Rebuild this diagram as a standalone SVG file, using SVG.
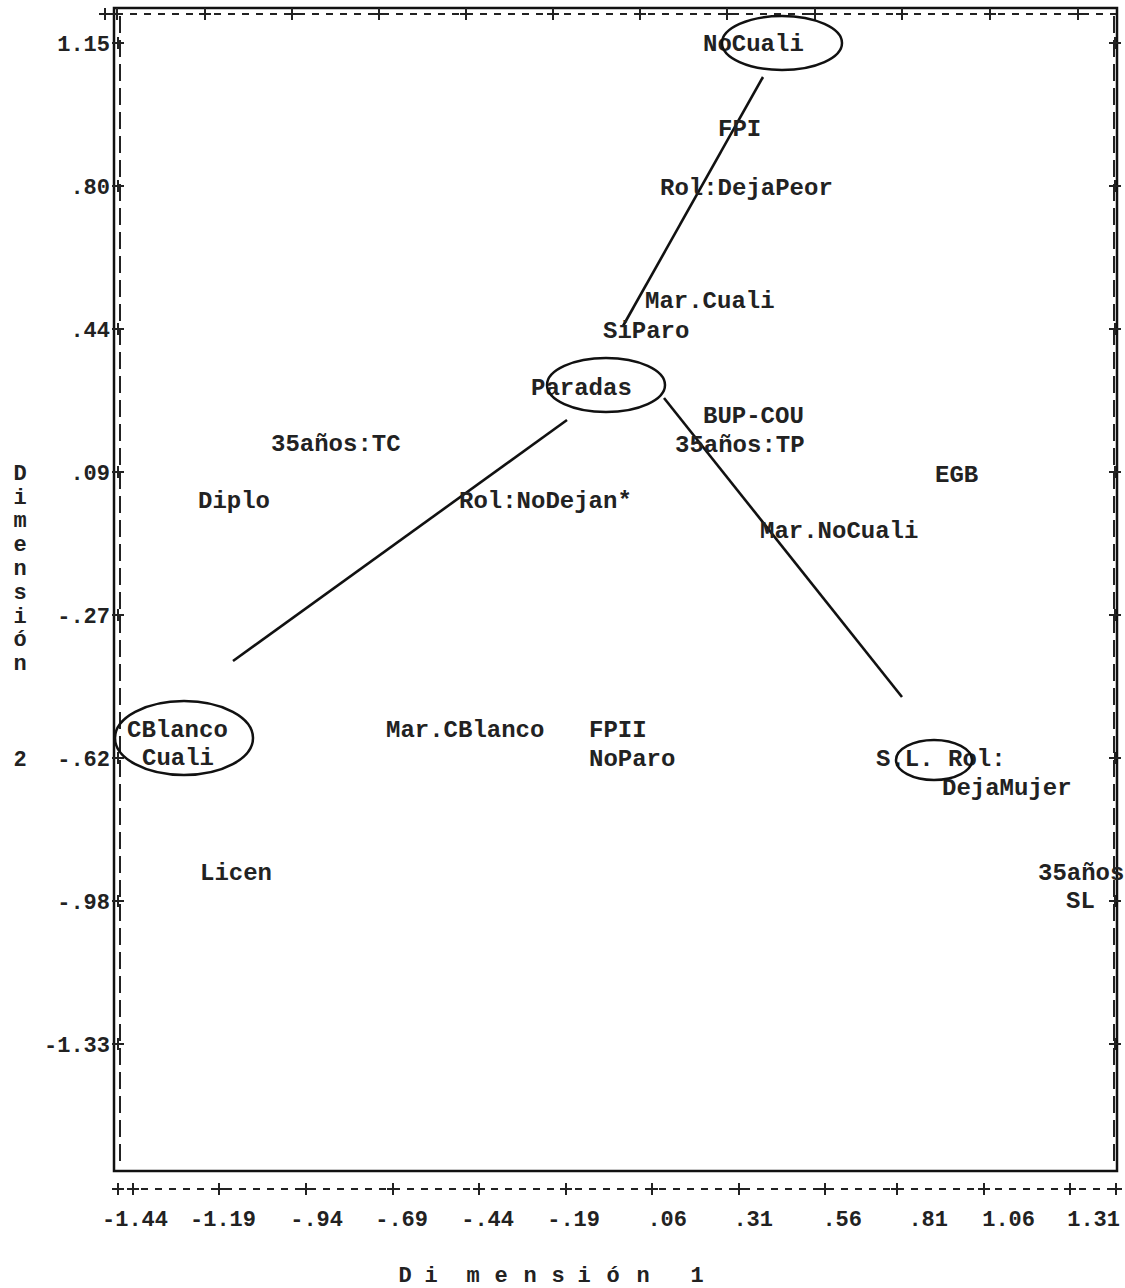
<svg xmlns="http://www.w3.org/2000/svg" xmlns:xlink="http://www.w3.org/1999/xlink" width="1125" height="1288" viewBox="0 0 1125 1288">
<style>
.lbl{font-family:"Liberation Mono","Courier New",monospace;font-weight:bold;font-size:24px;fill:#222}
.tk{font-family:"Liberation Mono","Courier New",monospace;font-weight:bold;font-size:22px;fill:#222}
.tkr{text-anchor:end}
.frame{fill:none;stroke:#111;stroke-width:2.5}
.dash{fill:none;stroke:#222;stroke-width:2}
.conn{stroke:#111;stroke-width:2.6;fill:none}
.ring{fill:none;stroke:#111;stroke-width:2.5}
.pl{stroke:#222;stroke-width:2;fill:none}
</style>
<defs>
<path id="plus" d="M-6 0H6M0 -6V6" class="pl"/>
</defs>
<rect width="1125" height="1288" fill="#fff"/>

<!-- frame -->
<rect class="frame" x="114" y="8" width="1003" height="1163"/>
<line class="dash" x1="116" y1="14" x2="1116" y2="14" stroke-dasharray="7,7"/>
<line class="dash" x1="120" y1="16" x2="120" y2="1168" stroke-dasharray="17,7"/>
<line class="dash" x1="1114" y1="16" x2="1114" y2="1168" stroke-dasharray="17,7"/>
<line class="dash" x1="113" y1="1189" x2="1120" y2="1189" stroke-dasharray="7,7"/>

<!-- top ticks -->
<g>
<use xlink:href="#plus" x="105" y="14"/><use xlink:href="#plus" x="117" y="14"/><use xlink:href="#plus" x="205" y="14"/><use xlink:href="#plus" x="292" y="14"/><use xlink:href="#plus" x="379" y="14"/><use xlink:href="#plus" x="466" y="14"/><use xlink:href="#plus" x="553" y="14"/><use xlink:href="#plus" x="640" y="14"/><use xlink:href="#plus" x="727" y="14"/><use xlink:href="#plus" x="815" y="14"/><use xlink:href="#plus" x="902" y="14"/><use xlink:href="#plus" x="990" y="14"/><use xlink:href="#plus" x="1078" y="14"/>
</g>
<!-- bottom ticks -->
<g>
<use xlink:href="#plus" x="118" y="1189"/><use xlink:href="#plus" x="133" y="1189"/><use xlink:href="#plus" x="219" y="1189"/><use xlink:href="#plus" x="306" y="1189"/><use xlink:href="#plus" x="393" y="1189"/><use xlink:href="#plus" x="479" y="1189"/><use xlink:href="#plus" x="566" y="1189"/><use xlink:href="#plus" x="652" y="1189"/><use xlink:href="#plus" x="739" y="1189"/><use xlink:href="#plus" x="825" y="1189"/><use xlink:href="#plus" x="897" y="1189"/><use xlink:href="#plus" x="984" y="1189"/><use xlink:href="#plus" x="1070" y="1189"/><use xlink:href="#plus" x="1116" y="1189"/>
</g>
<!-- left/right ticks -->
<g>
<use xlink:href="#plus" x="118" y="43"/><use xlink:href="#plus" x="118" y="186"/><use xlink:href="#plus" x="118" y="329"/><use xlink:href="#plus" x="118" y="472"/><use xlink:href="#plus" x="118" y="615"/><use xlink:href="#plus" x="118" y="758"/><use xlink:href="#plus" x="118" y="901"/><use xlink:href="#plus" x="118" y="1044"/>
<use xlink:href="#plus" x="1115" y="43"/><use xlink:href="#plus" x="1115" y="186"/><use xlink:href="#plus" x="1115" y="329"/><use xlink:href="#plus" x="1115" y="472"/><use xlink:href="#plus" x="1115" y="615"/><use xlink:href="#plus" x="1115" y="758"/><use xlink:href="#plus" x="1115" y="901"/><use xlink:href="#plus" x="1115" y="1044"/>
</g>

<!-- y tick labels -->
<g class="tk tkr">
<text x="110" y="51">1.15</text>
<text x="110" y="194">.80</text>
<text x="110" y="337">.44</text>
<text x="110" y="480">.09</text>
<text x="110" y="623">-.27</text>
<text x="110" y="766">-.62</text>
<text x="110" y="909">-.98</text>
<text x="110" y="1052">-1.33</text>
</g>
<!-- x tick labels -->
<g class="tk tkr">
<text x="168" y="1226">-1.44</text>
<text x="256" y="1226">-1.19</text>
<text x="343" y="1226">-.94</text>
<text x="428" y="1226">-.69</text>
<text x="514" y="1226">-.44</text>
<text x="600" y="1226">-.19</text>
<text x="687" y="1226">.06</text>
<text x="773" y="1226">.31</text>
<text x="862" y="1226">.56</text>
<text x="948" y="1226">.81</text>
<text x="1035" y="1226">1.06</text>
<text x="1120" y="1226">1.31</text>
</g>

<!-- axis titles -->
<g class="tk" text-anchor="middle">
<text x="20" y="480">D</text>
<text x="20" y="504">i</text>
<text x="20" y="527">m</text>
<text x="20" y="551">e</text>
<text x="20" y="575">n</text>
<text x="20" y="599">s</text>
<text x="20" y="623">i</text>
<text x="20" y="646">ó</text>
<text x="20" y="670">n</text>
<text x="20" y="766">2</text>
</g>
<g class="tk" text-anchor="middle">
<text x="405" y="1282">D</text>
<text x="431" y="1282">i</text>
<text x="473" y="1282">m</text>
<text x="501" y="1282">e</text>
<text x="530" y="1282">n</text>
<text x="558" y="1282">s</text>
<text x="584" y="1282">i</text>
<text x="613" y="1282">ó</text>
<text x="643" y="1282">n</text>
<text x="697" y="1282">1</text>
</g>

<!-- connectors -->
<g id="connectors">
<line class="conn" x1="623" y1="326" x2="763" y2="77"/>
<line class="conn" x1="233" y1="661" x2="567" y2="420"/>
<line class="conn" x1="664" y1="398" x2="902" y2="697"/>
</g>

<!-- nodes -->
<g id="n-nocuali"><text class="lbl" x="703" y="51">NoCuali</text><ellipse class="ring" cx="782" cy="43" rx="60" ry="27"/></g>
<g id="n-fpi"><text class="lbl" x="718" y="136">FPI</text></g>
<g id="n-roldejapeor"><text class="lbl" x="660" y="195">Rol:DejaPeor</text></g>
<g id="n-marcuali"><text class="lbl" x="645" y="308">Mar.Cuali</text></g>
<g id="n-siparo"><text class="lbl" x="603" y="338">SiParo</text></g>
<g id="n-paradas"><text class="lbl" x="531" y="395">Paradas</text><ellipse class="ring" cx="606" cy="385" rx="59" ry="27"/></g>
<g id="n-bupcou"><text class="lbl" x="703" y="423">BUP-COU</text></g>
<g id="n-35tp"><text class="lbl" x="675" y="452">35años:TP</text></g>
<g id="n-35tc"><text class="lbl" x="271" y="451">35años:TC</text></g>
<g id="n-egb"><text class="lbl" x="935" y="482">EGB</text></g>
<g id="n-diplo"><text class="lbl" x="198" y="508">Diplo</text></g>
<g id="n-rolnodejan"><text class="lbl" x="459" y="508">Rol:NoDejan*</text></g>
<g id="n-marnocuali"><text class="lbl" x="760" y="538">Mar.NoCuali</text></g>
<g id="n-cblanco"><text class="lbl" x="127" y="737">CBlanco</text><text class="lbl" x="142" y="765">Cuali</text><ellipse class="ring" cx="184" cy="738" rx="69" ry="37"/></g>
<g id="n-marcblanco"><text class="lbl" x="386" y="737">Mar.CBlanco</text></g>
<g id="n-fpii"><text class="lbl" x="589" y="737">FPII</text></g>
<g id="n-noparo"><text class="lbl" x="589" y="766">NoParo</text></g>
<g id="n-sl-rol"><text class="lbl" x="876" y="766">S.L. Rol:</text><text class="lbl" x="942" y="795">DejaMujer</text><ellipse class="ring" cx="934" cy="760" rx="38" ry="20"/></g>
<g id="n-licen"><text class="lbl" x="200" y="880">Licen</text></g>
<g id="n-35sl"><text class="lbl" x="1038" y="880">35años</text><text class="lbl" x="1066" y="908">SL</text></g>
</svg>
